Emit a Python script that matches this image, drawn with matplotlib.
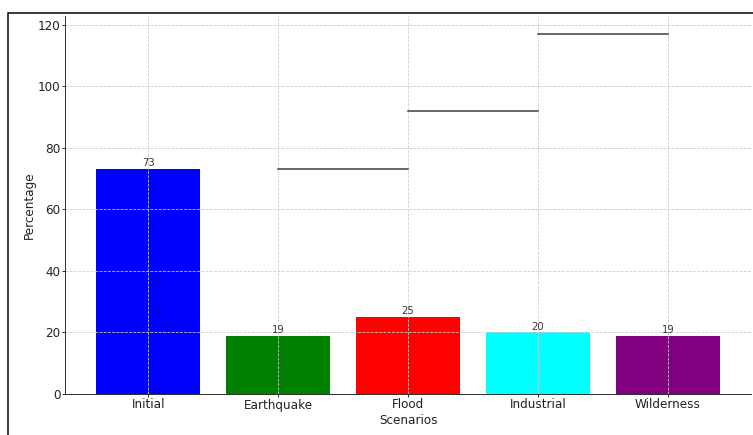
import matplotlib.pyplot as plt
from matplotlib.patches import Rectangle

scenarios = ['Initial', 'Earthquake', 'Flood', 'Industrial', 'Wilderness']
values = [73, 19, 25, 20, 19]
colors = ['blue', 'green', 'red', 'cyan', 'purple']

fig = plt.figure(figsize=(753/72, 435/72), dpi=72)
ax = fig.add_axes([65/753, 41/435, 686/753, 378/435])

# outer frame around the figure
fig.patches.append(Rectangle((8/753, -0.2), 1.2, 0.2 + 422/435, transform=fig.transFigure,
                             fill=False, edgecolor='black', linewidth=1.5))

ax.bar(scenarios, values, color=colors, width=0.8)

# cumulative connector lines between bars
total = values[0]
for i in range(1, len(values) - 1):
    ax.plot([i, i + 1], [total, total], color='#3a3a3a', linewidth=1.5)
    total += values[i]

for i, v in enumerate(values):
    ax.text(i, v + 0.3, str(v), ha='center', va='bottom', fontsize=10, color='#333333')

ax.grid(True, linestyle='--', color='#cccccc', linewidth=0.8)
ax.spines['top'].set_visible(False)
ax.spines['right'].set_visible(False)
ax.set_xlabel('Scenarios', fontsize=12, color='#222222', labelpad=3)
ax.set_ylabel('Percentage', fontsize=12, color='#222222', labelpad=2)
ax.tick_params(labelsize=12, labelcolor='#222222', length=3, pad=1.5)

plt.savefig('out.png', dpi=72)
